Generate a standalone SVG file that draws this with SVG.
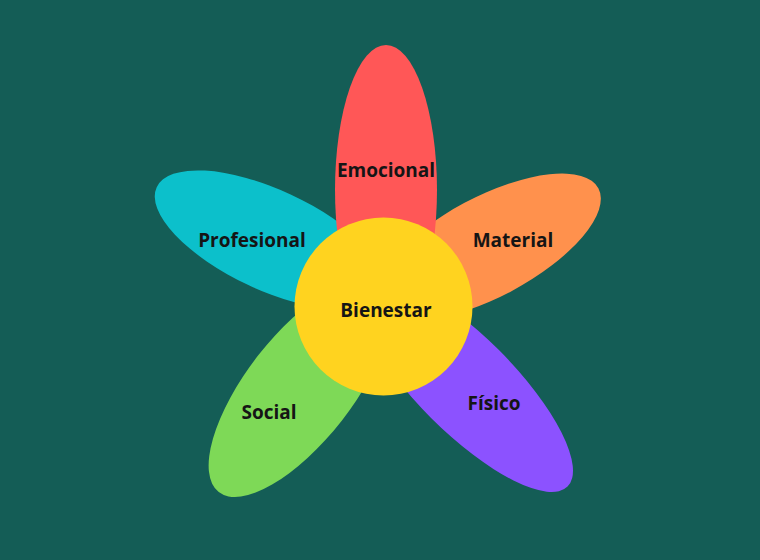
<svg xmlns="http://www.w3.org/2000/svg" width="760" height="560" viewBox="0 0 760 560">
<style>
.lbl{font-family:"Open Sans","Noto Sans","Liberation Sans",sans-serif;font-weight:700;font-size:19px;fill:#151515;text-anchor:middle}
</style>
<rect x="0" y="0" width="760" height="560" fill="#145d56"/>
<g id="connectors"></g>
<g id="profesional">
<ellipse cx="270" cy="240" rx="125" ry="50" transform="rotate(25 270 240)" fill="#0cc0cb"/>
<text class="lbl" x="252" y="247">Profesional</text>
</g>
<g id="material">
<ellipse cx="488" cy="247" rx="125" ry="50" transform="rotate(-28 488 247)" fill="#ff914d"/>
<text class="lbl" x="513" y="247">Material</text>
</g>
<g id="social">
<ellipse cx="300" cy="388" rx="132" ry="53" transform="rotate(-52 300 388)" fill="#7ed957"/>
<text class="lbl" x="269" y="419">Social</text>
</g>
<g id="fisico">
<ellipse cx="465" cy="384" rx="145" ry="48" transform="rotate(45 465 384)" fill="#8c52ff"/>
<text class="lbl" x="494" y="410">Físico</text>
</g>
<g id="emocional">
<ellipse cx="386" cy="190" rx="51" ry="145" fill="#ff5757"/>
<text class="lbl" x="386" y="177">Emocional</text>
</g>
<g id="bienestar">
<circle cx="383.5" cy="306.5" r="89" fill="#ffd31f"/>
<text class="lbl" x="386" y="317">Bienestar</text>
</g>
</svg>
